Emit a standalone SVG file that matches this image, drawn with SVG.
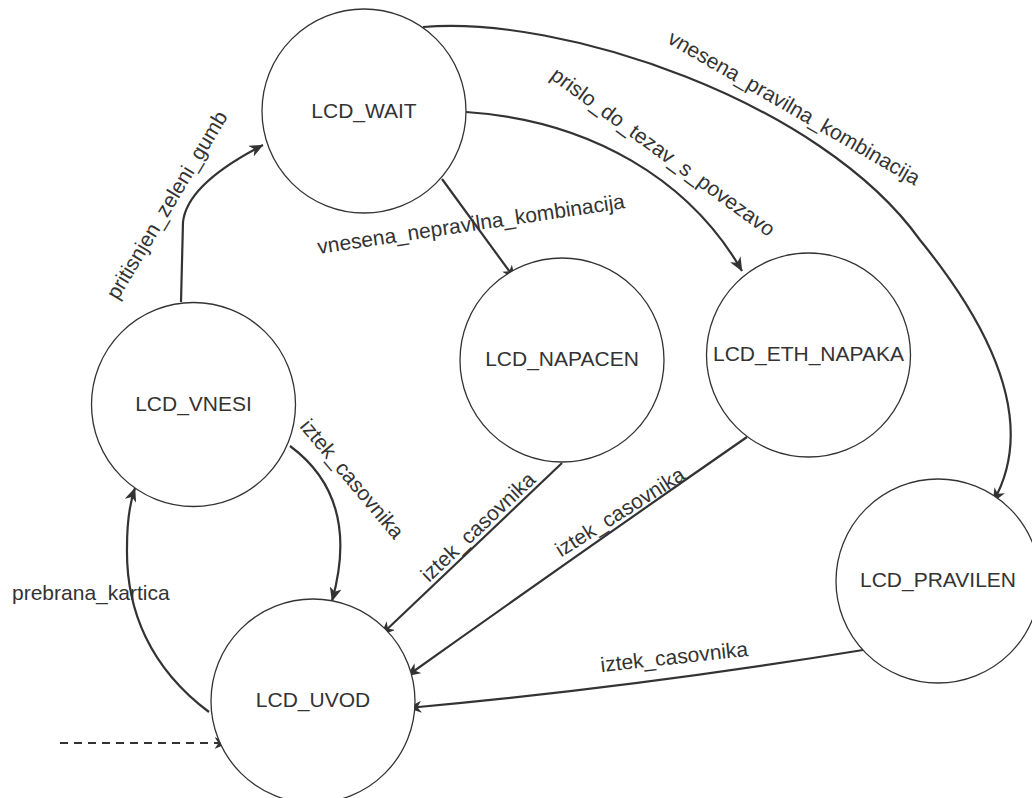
<svg xmlns="http://www.w3.org/2000/svg" width="1032" height="798" viewBox="0 0 1032 798">
<style>
.st{fill:#fff;stroke:#333;stroke-width:1.3}
.lb{font-family:"Liberation Sans",Arial,sans-serif;font-size:21px;fill:#333}
.c{text-anchor:middle}
.e{fill:none;stroke:#333;stroke-width:2.2}
</style>
<defs>
<marker id="arr" viewBox="0 0 14 12" refX="13.5" refY="6" markerWidth="14" markerHeight="12" markerUnits="userSpaceOnUse" orient="auto">
<path d="M0,0 L14,6 L0,12 L4,6 z" fill="#333"/>
</marker>
</defs>
<rect width="1032" height="798" fill="#fff"/>
<g id="connectors">
<path class="e" d="M181,302 L183,222 Q187,184 263,145" marker-end="url(#arr)"/>
<path class="e" d="M290,446 C336,480 352,530 332,601" marker-end="url(#arr)"/>
<path class="e" d="M209,712 C150,668 126,610 127,548 C127,520 130,502 135,488" marker-end="url(#arr)"/>
<path class="e" d="M442,179 L515,279" marker-end="url(#arr)"/>
<path class="e" d="M466,112 C590,120 690,180 742,271" marker-end="url(#arr)"/>
<path class="e" d="M423,27 C560,15 820,100 920,240 C985,320 1040,420 993,502" marker-end="url(#arr)"/>
<path class="e" d="M562,463 L381,635" marker-end="url(#arr)"/>
<path class="e" d="M747,437 Q580,553 407,676" marker-end="url(#arr)"/>
<path class="e" d="M863,650 Q630,688 408,708" marker-end="url(#arr)"/>
<path class="e" d="M60,743 L228,743" stroke-dasharray="8,6" marker-end="url(#arr)"/>
<text class="lb c" transform="translate(167,205) rotate(-59)" x="0" y="7">pritisnjen_zeleni_gumb</text>
<text class="lb c" transform="translate(352,479) rotate(50)" x="0" y="7">iztek_casovnika</text>
<text class="lb" x="12" y="600">prebrana_kartica</text>
<text class="lb c" transform="translate(472,231) rotate(-8.5)" x="0" y="0">vnesena_nepravilna_kombinacija</text>
<text class="lb c" transform="translate(663,152) rotate(36)" x="0" y="7">prislo_do_tezav_s_povezavo</text>
<text class="lb c" transform="translate(794,108) rotate(30)" x="0" y="7">vnesena_pravilna_kombinacija</text>
<text class="lb c" transform="translate(478,527) rotate(-43.4)" x="0" y="7">iztek_casovnika</text>
<text class="lb c" transform="translate(620,512) rotate(-32.3)" x="0" y="7">iztek_casovnika</text>
<text class="lb c" transform="translate(675,664) rotate(-6.3)" x="0" y="0">iztek_casovnika</text>
</g>
<g id="LCD_WAIT"><circle class="st" cx="364" cy="111" r="102"/><text class="lb c" x="364" y="118">LCD_WAIT</text></g>
<g id="LCD_VNESI"><circle class="st" cx="193.5" cy="404.5" r="102"/><text class="lb c" x="193.5" y="411">LCD_VNESI</text></g>
<g id="LCD_NAPACEN"><circle class="st" cx="562" cy="360" r="102"/><text class="lb c" x="562" y="366">LCD_NAPACEN</text></g>
<g id="LCD_ETH_NAPAKA"><circle class="st" cx="808.5" cy="355" r="102"/><text class="lb c" x="808.5" y="361">LCD_ETH_NAPAKA</text></g>
<g id="LCD_PRAVILEN"><circle class="st" cx="938" cy="581" r="102"/><text class="lb c" x="938" y="587">LCD_PRAVILEN</text></g>
<g id="LCD_UVOD"><circle class="st" cx="313" cy="701" r="102"/><text class="lb c" x="313" y="707">LCD_UVOD</text></g>
</svg>
